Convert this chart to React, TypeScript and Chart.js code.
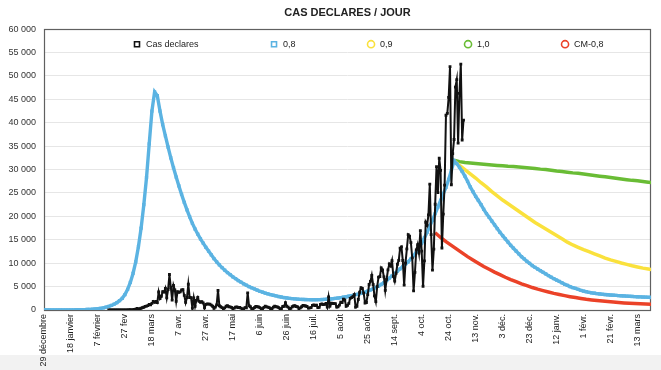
import React, { useEffect, useRef } from "react";
import { Chart, registerables } from "chart.js";

Chart.register(...registerables);

const FONT = '"Liberation Sans", Arial, Helvetica, sans-serif';

// ---- axis ----
const tickLabels = [
  "29 décembre", "18 janvier", "7 février", "27 fev", "18 mars", "7 avr.", "27 avr.",
  "17 mai", "6 juin", "26 juin", "16 juil.", "5 août", "25 août", "14 sept.", "4 oct.",
  "24 oct.", "13 nov.", "3 déc.", "23 déc.", "12 janv.", "1 févr.", "21 févr.", "13 mars",
];
const TICK_EVERY = 20; // days between two date labels (day 0 = 29 déc. 2019)
const LAST_DAY = 450;

const seriesNames = ["Cas declares", "0,8", "0,9", "1,0", "CM-0,8"];
const seriesColors = ["#111111", "#5BB3E2", "#FAE13C", "#69BC35", "#EB4228"];
const legendShapes = ["rect", "rect", "circle", "circle", "circle"];

// ---- Cas declares : one value per day, from day 48 (15 févr. 2020) ----
const casStartDay = 48;
const casFev = [0, 0, 0, 0, 0, 0, 0, 0, 0, 0, 2, 4, 20, 19, 43];
const casMars = [30, 61, 21, 73, 138, 190, 336, 177, 286, 372, 497, 595, 785, 838, 924, 1210, 1097, 1404, 1861, 1617, 1847, 1559, 3838, 2446, 2931, 3922, 3809, 4611, 2599, 4376, 7578];
const casAvril = [4861, 2116, 5233, 4267, 1873, 3912, 3777, 3881, 4286, 4342, 3114, 1613, 2673, 5497, 2633, 2641, 405, 2569, 785, 2051, 2667, 1827, 1653, 1773, 1537, 461, 1195, 1296, 1273, 1242];
const casMai = [1050, 800, 350, 600, 1100, 4200, 900, 700, 500, 300, 450, 800, 900, 700, 650, 550, 300, 400, 600, 650, 500, 550, 400, 250, 200, 500, 450, 3650, 900, 700, 300];
const casJuin = [250, 500, 750, 700, 650, 500, 250, 300, 550, 800, 650, 600, 500, 250, 300, 600, 800, 700, 650, 500, 200, 300, 750, 800, 1550, 800, 600, 300, 350, 700];
const casJuillet = [850, 900, 750, 650, 300, 450, 700, 1000, 900, 850, 750, 400, 450, 500, 1000, 1100, 950, 1050, 500, 550, 1200, 1300, 1150, 1200, 1400, 600, 2800, 850, 1450, 1400, 1350];
const casAout = [1350, 600, 700, 1050, 1700, 1600, 2300, 2150, 800, 1000, 1400, 2500, 2650, 2850, 3300, 600, 800, 2250, 3800, 4750, 4600, 3600, 1500, 1600, 3300, 5450, 6100, 7400, 5450, 3000, 1800];
const casSept = [4980, 7020, 7160, 8980, 8550, 7070, 4200, 6540, 8580, 9840, 9410, 10560, 7180, 6160, 7850, 9780, 10590, 13220, 13500, 10570, 5300, 10010, 13070, 16100, 15800, 14410, 11120, 4070, 8050, 12850];
const casOct = [13970, 12150, 16970, 12570, 5080, 10490, 18750, 18130, 20340, 26900, 16100, 8510, 12990, 22590, 30620, 25090, 32430, 29840, 13240, 20470, 26680, 41620, 42030, 45420, 52010, 26770, 33420, 36440, 47640, 49220, 35640];
const casNov = [46290, 52520, 36330, 40560];

// ---- scenario 0,8 : one value every 2 days from day 0 ----
const r08Start = 0;
const r08Step = 2;
const r08Rise1 = [2, 3, 4, 5, 6, 7, 10, 12, 16, 20, 25, 32, 41, 52, 67, 85, 110, 140, 175, 225, 290, 370, 470, 600, 760, 970, 1230, 1560, 1980, 2500, 3300, 4400, 5900, 7800, 10300, 13500, 17500, 22500, 28300, 35500, 42500, 46600];
const r08Fall1 = [45800, 42500, 39600, 37200, 34800, 32500, 30400, 28400, 26500, 24700, 23000, 21400, 19900, 18500, 17300, 16200, 15200, 14300, 13400, 12600, 11800, 11000, 10300, 9650, 9050, 8500, 8000, 7550, 7100, 6700, 6300, 5950, 5600, 5300, 5000, 4750, 4500, 4250, 4000, 3800, 3600, 3450, 3300, 3150, 3000, 2880, 2770, 2660, 2570, 2490, 2420, 2370, 2320, 2280, 2250, 2230, 2210, 2200, 2200, 2200, 2210, 2230, 2260, 2300, 2350, 2410, 2480, 2560, 2640, 2730];
const r08Rise2 = [2830, 2940, 3060, 3190, 3330, 3480, 3650, 3840, 4050, 4280, 4530, 4800, 5100, 5450, 5850, 6300, 6800, 7300, 7800, 8300, 8800, 9300, 9800, 10300, 10900, 11600, 12400, 13300, 14300, 15400, 16600, 17900, 19200, 20600, 22000, 23400, 24800, 26200, 27900, 29800, 31900];
const r08Fall2 = [31300, 30500, 29600, 28600, 27500, 26300, 25300, 24300, 23400, 22500, 21500, 20600, 19800, 19000, 18200, 17400, 16600, 15900, 15200, 14500, 13800, 13200, 12600, 12000, 11400, 10900, 10400, 9950, 9500, 9100, 8750, 8400, 8050, 7700, 7350, 7000, 6700, 6400, 6100, 5800, 5500, 5250, 5000, 4800, 4600, 4400, 4200, 4050, 3900, 3780, 3670, 3580, 3500, 3430, 3360, 3300, 3250, 3200, 3160, 3120, 3080, 3040, 3000, 2960, 2930, 2890, 2860, 2830, 2800, 2770, 2740, 2710, 2680];

// ---- scenarios 0,9 and 1,0 : one value every 4 days from day 304 ----
const scenStart = 304;
const scenStep = 4;
const r09 = [31900, 30900, 30000, 29100, 28200, 27200, 26300, 25300, 24400, 23500, 22700, 21900, 21100, 20300, 19500, 18700, 18000, 17300, 16600, 15900, 15200, 14500, 13900, 13400, 12900, 12450, 12000, 11550, 11100, 10700, 10400, 10050, 9750, 9450, 9200, 8950, 8750, 8550];
const r10 = [32000, 31700, 31500, 31400, 31300, 31200, 31100, 31000, 30900, 30800, 30700, 30650, 30550, 30450, 30350, 30250, 30100, 30000, 29850, 29700, 29600, 29450, 29300, 29200, 29050, 28900, 28750, 28600, 28450, 28300, 28150, 28000, 27850, 27700, 27600, 27450, 27300, 27150];

// ---- scenario CM-0,8 : one value every 4 days from day 290 ----
const cmStart = 290;
const cmStep = 4;
const cm08 = [16500, 15500, 14600, 13800, 13000, 12200, 11400, 10700, 10000, 9300, 8700, 8100, 7550, 7000, 6500, 6050, 5600, 5200, 4800, 4450, 4150, 3850, 3550, 3300, 3070, 2850, 2650, 2470, 2300, 2160, 2030, 1910, 1800, 1700, 1600, 1520, 1450, 1380, 1320, 1260, 1210];

const casDeclares = [...casFev, ...casMars, ...casAvril, ...casMai, ...casJuin, ...casJuillet, ...casAout, ...casSept, ...casOct, ...casNov];
const r08 = [...r08Rise1, ...r08Fall1, ...r08Rise2, ...r08Fall2];

const toPoints = (values: number[], start: number, step: number) =>
  values.map((y, i) => ({ x: start + i * step, y }));

const fmtThousands = (v: number) => String(v).replace(/\B(?=(\d{3})+(?!\d))/g, " ");

const LEGEND_GAP = 71;

const legendPlacer = {
  id: "legendPlacer",
  afterLayout(chart: any) {
    const lg = chart.legend;
    if (!lg) return;
    const a = chart.chartArea;
    lg.left = a.left + 88.5 - LEGEND_GAP;
    lg.right = chart.width + 400;
    lg.top = a.top + 10.5 - LEGEND_GAP;
    lg.bottom = a.top + 40;
  },
};

const framePlugin = {
  id: "frame",
  beforeDatasetsDraw(chart: any) {
    const { ctx, chartArea: a } = chart;
    ctx.save();
    ctx.strokeStyle = "#606060";
    ctx.lineWidth = 1.2;
    const l = Math.round(a.left) + 0.5;
    const t = Math.round(a.top) + 0.5;
    const r = Math.round(a.right) - 0.5;
    const b = Math.round(a.bottom) + 0.5;
    ctx.strokeRect(l, t, r - l, b - t);
    ctx.restore();
  },
};

export default function App() {
  const ref = useRef<HTMLCanvasElement>(null);

  useEffect(() => {
    if (!ref.current) return;
    const chart = new Chart(ref.current, {
      type: "line",
      data: {
        datasets: [
          {
            label: seriesNames[0],
            data: toPoints(casDeclares, casStartDay, 1),
            borderColor: seriesColors[0],
            backgroundColor: seriesColors[0],
            borderWidth: 2,
            pointStyle: "rect",
            pointRadius: 2,
            pointBorderWidth: 0,
            pointBackgroundColor: seriesColors[0],
          },
          {
            label: seriesNames[1],
            data: toPoints(r08, r08Start, r08Step),
            borderColor: seriesColors[1],
            backgroundColor: seriesColors[1],
            borderWidth: 3.4,
            pointStyle: "rect",
            pointRadius: 2.3,
            pointBorderWidth: 0,
            pointBackgroundColor: seriesColors[1],
          },
          {
            label: seriesNames[2],
            data: toPoints(r09, scenStart, scenStep),
            borderColor: seriesColors[2],
            backgroundColor: seriesColors[2],
            borderWidth: 3.5,
            pointRadius: 0,
          },
          {
            label: seriesNames[3],
            data: toPoints(r10, scenStart, scenStep),
            borderColor: seriesColors[3],
            backgroundColor: seriesColors[3],
            borderWidth: 3.5,
            pointRadius: 0,
          },
          {
            label: seriesNames[4],
            data: toPoints(cm08, cmStart, cmStep),
            borderColor: seriesColors[4],
            backgroundColor: seriesColors[4],
            borderWidth: 3.5,
            pointRadius: 0,
          },
        ],
      },
      options: {
        responsive: false,
        animation: false,
        devicePixelRatio: 1,
        events: [],
        layout: { padding: { left: 0, right: 10, top: 0, bottom: 0 } },
        elements: { line: { tension: 0 } },
        scales: {
          x: {
            type: "linear",
            min: 0,
            max: LAST_DAY,
            grid: { display: false, drawTicks: false },
            border: { display: false },
            ticks: {
              stepSize: TICK_EVERY,
              autoSkip: false,
              includeBounds: false,
              minRotation: 90,
              maxRotation: 90,
              padding: 4,
              color: "#222",
              font: { family: FONT, size: 9 },
              callback: (v: any) => {
                const i = Math.round(Number(v) / TICK_EVERY);
                return tickLabels[i] ?? "";
              },
            },
            afterFit: (s: any) => {
              s.height = 60;
            },
          },
          y: {
            min: 0,
            max: 60000,
            grid: { color: "#e6e6e6", lineWidth: 1, drawTicks: false },
            border: { display: false },
            ticks: {
              stepSize: 5000,
              padding: 8,
              color: "#333",
              font: { family: FONT, size: 9 },
              callback: (v: any) => fmtThousands(Number(v)),
            },
            afterFit: (s: any) => {
              s.width = 44;
            },
          },
        },
        plugins: {
          title: {
            display: true,
            text: "CAS DECLARES / JOUR",
            fullSize: false,
            color: "#222",
            font: { family: FONT, size: 11, weight: "bold" },
            padding: { top: 6, bottom: 9 },
          },
          legend: {
            display: true,
            position: "top",
            align: "start",
            maxHeight: 1,
            labels: {
              usePointStyle: true,
              boxWidth: 9,
              boxHeight: 5,
              padding: LEGEND_GAP,
              color: "#222",
              font: { family: FONT, size: 9 },
              generateLabels: (c: any) =>
                c.data.datasets.map((ds: any, i: number) => ({
                  text: ds.label,
                  fillStyle: "#ffffff",
                  strokeStyle: seriesColors[i],
                  lineWidth: 1.6,
                  pointStyle: legendShapes[i],
                  hidden: false,
                  datasetIndex: i,
                  fontColor: "#222",
                })),
            },
          },
          tooltip: { enabled: false },
        },
      },
      plugins: [legendPlacer, framePlugin],
    } as any);
    return () => chart.destroy();
  }, []);

  return (
    <div
      style={{
        position: "fixed",
        left: 0,
        top: 0,
        width: 661,
        height: 370,
        background: "linear-gradient(#ffffff 0px, #ffffff 355px, #f2f2f2 355px)",
      }}
    >
      <canvas ref={ref} width={661} height={370} style={{ display: "block" }} />
    </div>
  );
}
